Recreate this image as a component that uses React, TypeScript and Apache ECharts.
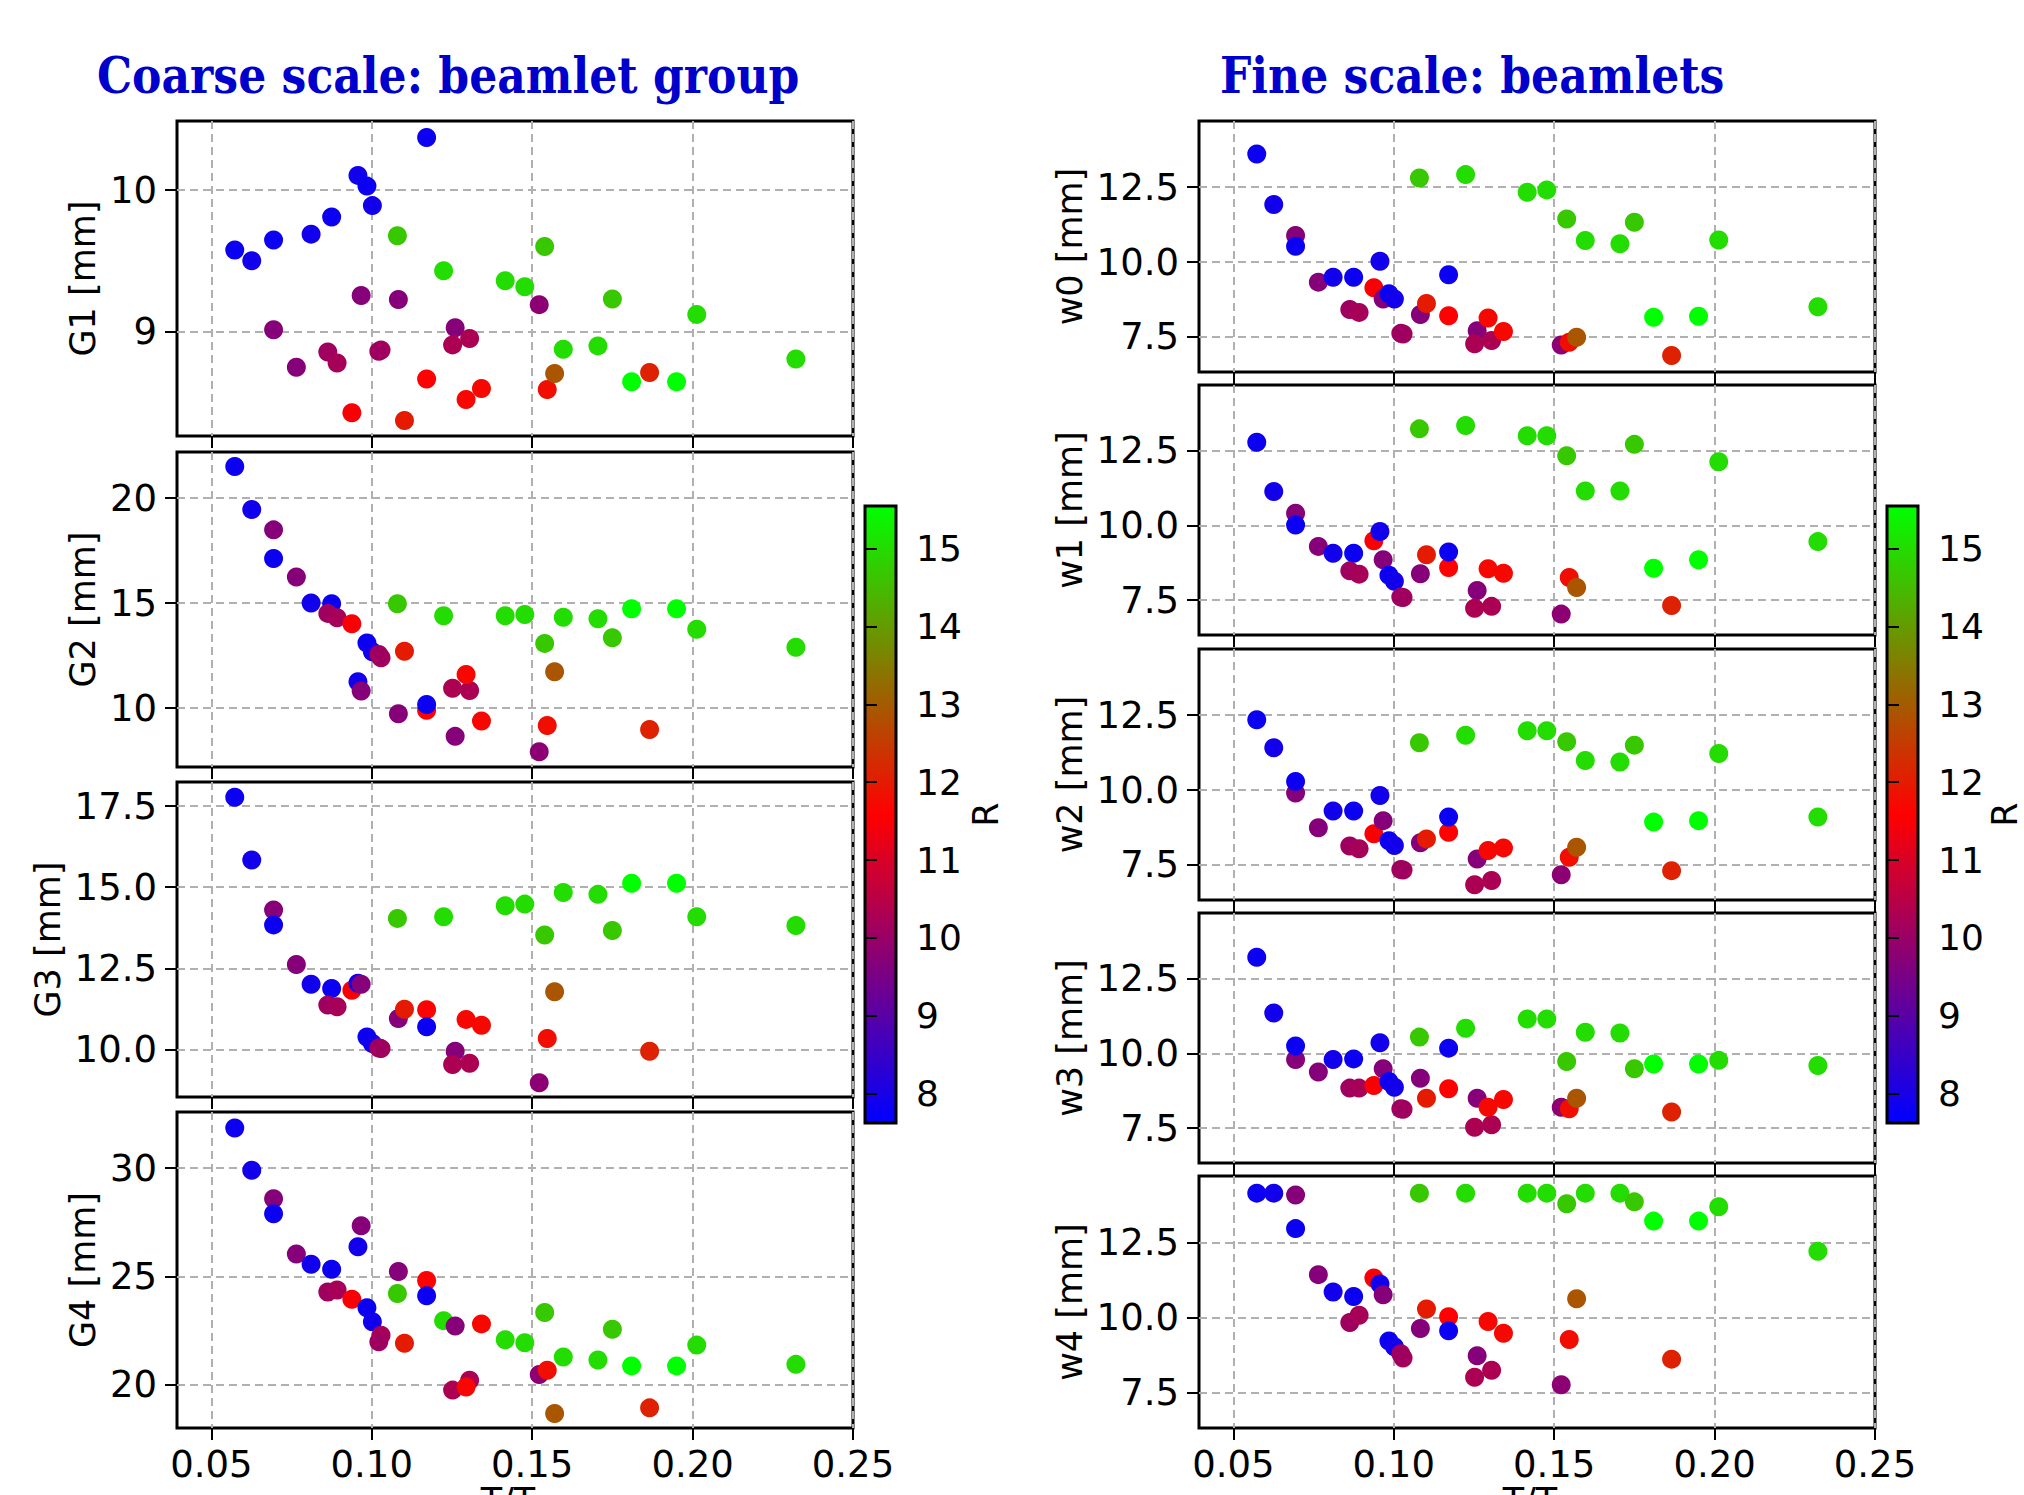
import React, { useEffect, useRef } from 'react';
import * as echarts from 'echarts';

// ---- data (one entry per sample) ----
const xRatio = [
  0.0573, 0.0626, 0.0694, 0.0694, 0.0765, 0.0811, 0.0875, 0.0863, 0.0892, 0.0938,
  0.0957, 0.0967, 0.0985, 0.1002, 0.1029, 0.1022, 0.1083, 0.1080, 0.1102, 0.1171,
  0.1171, 0.1224, 0.1260, 0.1252, 0.1305, 0.1294, 0.1342, 0.1416, 0.1477, 0.1522,
  0.1539, 0.1547, 0.1570, 0.1597, 0.1705, 0.1750, 0.1810, 0.1866, 0.1950, 0.2013,
  0.2322,
];
const rValue = [
  7.8, 7.9, 9.7, 7.8, 9.7, 7.9, 7.8, 10.1, 10.2, 11.5,
  7.9, 9.7, 7.8, 7.9, 10.2, 10.1, 9.7, 14.7, 12.0, 11.6,
  7.8, 15.0, 9.7, 10.3, 10.3, 11.7, 11.7, 15.0, 15.0, 9.8,
  14.7, 11.8, 12.9, 15.0, 15.0, 14.7, 15.55, 12.1, 15.55, 15.0,
  15.0,
];
const g1 = [
  9.577, 9.501, 9.012, 9.648, 8.746, 9.689, 9.81, 8.855, 8.777, 8.425,
  10.105, 9.254, 10.029, 9.891, 8.869, 8.86, 9.226, 9.677, 8.37, 8.663,
  10.373, 9.43, 9.026, 8.905, 8.95, 8.518, 8.596, 9.359, 9.316, 9.19,
  9.601, 8.589, 8.703, 8.874, 8.898, 9.23, 8.644, 8.71, 8.644, 9.121,
  8.805,
];
const g2 = [
  21.51, 19.46, 18.49, 17.13, 16.24, 15.0, 14.97, 14.51, 14.3, 14.02,
  11.25, 10.81, 13.1, 12.68, 12.4, 12.55, 9.73, 14.97, 12.71, 9.89,
  10.17, 14.4, 8.65, 10.94, 10.84, 11.6, 9.38, 14.4, 14.46, 7.92,
  13.08, 9.17, 11.73, 14.33, 14.25, 13.35, 14.73, 8.98, 14.73, 13.75,
  12.9,
];
const g3 = [
  17.77, 15.84, 14.3, 13.84, 12.62, 12.01, 11.88, 11.37, 11.32, 11.83,
  12.04, 12.01, 10.39, 10.19, 10.03, 10.05, 10.96, 14.04, 11.24, 11.23,
  10.7, 14.09, 9.95, 9.54, 9.58, 10.93, 10.75, 14.43, 14.48, 8.98,
  13.53, 10.34, 11.78, 14.84, 14.78, 13.67, 15.12, 9.95, 15.12, 14.09,
  13.82,
];
const g4 = [
  31.85, 29.9, 28.58, 27.89, 26.03, 25.56, 25.32, 24.27, 24.37, 23.94,
  26.36, 27.33, 23.55, 22.9, 22.28, 21.97, 25.22, 24.2, 21.91, 24.81,
  24.1, 22.95, 22.7, 19.74, 20.2, 19.88, 22.8, 22.07, 21.93, 20.46,
  23.33, 20.66, 18.66, 21.27, 21.13, 22.55, 20.86, 18.92, 20.86, 21.82,
  20.93,
];
const w0 = [
  13.61, 11.92, 10.89, 10.53, 9.33, 9.49, 9.49, 8.42, 8.32, 9.14,
  10.03, 8.77, 8.94, 8.77, 7.6, 7.62, 8.25, 12.81, 8.62, 8.21,
  9.58, 12.92, 7.71, 7.27, 7.38, 8.13, 7.68, 12.33, 12.41, 7.23,
  11.44, 7.32, 7.49, 10.72, 10.61, 11.33, 8.16, 6.88, 8.19, 10.74,
  8.51,
];
const w1 = [
  12.79, 11.14, 10.41, 10.02, 9.3, 9.07, 9.07, 8.48, 8.37, 9.49,
  9.8, 8.85, 8.33, 8.13, 7.59, 7.6, 8.38, 13.24, 9.02, 8.59,
  9.11, 13.35, 7.82, 7.23, 7.29, 8.55, 8.4, 13.01, 13.01, 7.03,
  12.34, 8.26, 7.92, 11.16, 11.16, 12.72, 8.57, 7.32, 8.85, 12.14,
  9.46,
];
const w2 = [
  12.35, 11.41, 9.9, 10.29, 8.74, 9.3, 9.3, 8.13, 8.04, 8.54,
  9.82, 8.98, 8.31, 8.15, 7.33, 7.35, 8.24, 11.58, 8.37, 8.59,
  9.1, 11.83, 7.7, 6.84, 6.98, 7.98, 8.07, 11.98, 11.98, 7.17,
  11.61, 7.76, 8.09, 10.99, 10.94, 11.5, 8.93, 7.31, 8.98, 11.22,
  9.1,
];
const w3 = [
  13.23, 11.36, 9.8, 10.25, 9.38, 9.8, 9.82, 8.84, 8.84, 8.93,
  10.36, 9.49, 9.06, 8.87, 8.13, 8.15, 9.17, 10.55, 8.5, 8.82,
  10.18, 10.85, 8.5, 7.53, 7.61, 8.2, 8.46, 11.16, 11.16, 8.2,
  9.73, 8.15, 8.5, 10.71, 10.69, 9.49, 9.65, 8.04, 9.65, 9.77,
  9.6,
];
const w4 = [
  14.14, 14.14, 14.08, 12.96, 11.43, 10.85, 10.7, 9.84, 10.08, 11.32,
  11.12, 10.76, 9.22, 9.03, 8.66, 8.8, 9.64, 14.14, 10.29, 10.03,
  9.56, 14.14, 8.73, 8.02, 8.25, 9.87, 9.48, 14.14, 14.14, 7.77,
  13.79, 9.27, 10.63, 14.14, 14.14, 13.85, 13.21, 8.62, 13.21, 13.69,
  12.21,
];

// ---- axes / ticks ----
const xRange = [0.0393, 0.25];
const xTicks = [0.05, 0.1, 0.15, 0.2, 0.25];
const g1Range = [8.26, 10.49];
const g1Ticks = [9, 10];
const g2Range = [7.19, 22.2];
const g2Ticks = [10, 15, 20];
const g3Range = [8.54, 18.24];
const g3Ticks = [10, 12.5, 15, 17.5];
const g4Range = [17.99, 32.59];
const g4Ticks = [20, 25, 30];
const wRange = [6.33, 14.71];
const wTicks = [7.5, 10, 12.5];
const rRange = [7.62, 15.55];
const rTicks = [8, 9, 10, 11, 12, 13, 14, 15];
const rColors = ['#0000ff', '#ff0000', '#00ff00'];

const titles = ['Coarse scale: beamlet group', 'Fine scale: beamlets'];
const xName = 'T/T\u2080';

// ---- layout ----
const FONT = 'DejaVu Sans';
const FS_TICK = 37;
const FS_NAME = 35;
const LEFT_COL = 177;
const RIGHT_COL = 1199;
const COL_W = 676;

const panels = [
  { label: 'G1 [mm]', values: g1, range: g1Range, ticks: g1Ticks, dec: 0, left: LEFT_COL, top: 121, height: 315, nameGap: 77, bottom: false },
  { label: 'G2 [mm]', values: g2, range: g2Range, ticks: g2Ticks, dec: 0, left: LEFT_COL, top: 452, height: 315, nameGap: 77, bottom: false },
  { label: 'G3 [mm]', values: g3, range: g3Range, ticks: g3Ticks, dec: 1, left: LEFT_COL, top: 782, height: 315, nameGap: 112, bottom: false },
  { label: 'G4 [mm]', values: g4, range: g4Range, ticks: g4Ticks, dec: 0, left: LEFT_COL, top: 1112, height: 316, nameGap: 77, bottom: true },
  { label: 'w0 [mm]', values: w0, range: wRange, ticks: wTicks, dec: 1, left: RIGHT_COL, top: 121, height: 251, nameGap: 112, bottom: false },
  { label: 'w1 [mm]', values: w1, range: wRange, ticks: wTicks, dec: 1, left: RIGHT_COL, top: 385, height: 250, nameGap: 112, bottom: false },
  { label: 'w2 [mm]', values: w2, range: wRange, ticks: wTicks, dec: 1, left: RIGHT_COL, top: 649, height: 251, nameGap: 112, bottom: false },
  { label: 'w3 [mm]', values: w3, range: wRange, ticks: wTicks, dec: 1, left: RIGHT_COL, top: 913, height: 250, nameGap: 112, bottom: false },
  { label: 'w4 [mm]', values: w4, range: wRange, ticks: wTicks, dec: 1, left: RIGHT_COL, top: 1176, height: 252, nameGap: 112, bottom: true },
];

const colorbars = [
  { left: 865, top: 506, width: 31, height: 617, nameGap: 72 },
  { left: 1887, top: 506, width: 31, height: 617, nameGap: 68 },
];

const gridLine = { show: true, lineStyle: { color: '#b0b0b0', width: 2, type: [8, 5] } };
const tickStyle = { color: '#000', width: 2 };
const tickLabelStyle = { fontSize: FS_TICK, fontFamily: FONT, color: '#000' };
const nameStyle = { fontSize: FS_NAME, fontFamily: FONT, color: '#000' };

function buildOption() {
  const grid: any[] = [];
  const xAxis: any[] = [];
  const yAxis: any[] = [];
  const series: any[] = [];

  panels.forEach((p, i) => {
    grid.push({
      left: p.left, top: p.top, width: COL_W, height: p.height,
      show: true, borderColor: '#000', borderWidth: 3, backgroundColor: 'transparent',
      containLabel: false, outerBoundsMode: 'none',
    });
    xAxis.push({
      gridIndex: i, type: 'value', min: xRange[0], max: xRange[1],
      axisLine: { show: false },
      axisTick: { show: true, length: 12, inside: false, lineStyle: tickStyle, customValues: xTicks },
      axisLabel: {
        show: p.bottom, customValues: xTicks, margin: 18, ...tickLabelStyle,
        formatter: (v: number) => v.toFixed(2),
      },
      splitLine: gridLine,
      name: p.bottom ? xName : '',
      nameLocation: 'middle', nameGap: 52,
      nameTextStyle: { ...nameStyle },
    });
    yAxis.push({
      gridIndex: i, type: 'value', min: p.range[0], max: p.range[1],
      axisLine: { show: false },
      axisTick: { show: true, length: 12, inside: false, lineStyle: tickStyle, customValues: p.ticks },
      axisLabel: {
        customValues: p.ticks, margin: 20, ...tickLabelStyle,
        formatter: (v: number) => v.toFixed(p.dec),
      },
      splitLine: gridLine,
      name: p.label, nameLocation: 'middle', nameRotate: 90, nameGap: p.nameGap,
      nameTextStyle: { ...nameStyle },
    });
    series.push({
      type: 'scatter', xAxisIndex: i, yAxisIndex: i,
      symbol: 'circle', symbolSize: 19,
      itemStyle: { opacity: 1 },
      data: xRatio.map((x, k) => [x, p.values[k], rValue[k]]),
    });
  });

  colorbars.forEach((c) => {
    const gi = grid.length;
    grid.push({
      left: c.left, top: c.top, width: c.width, height: c.height,
      show: true, borderColor: '#000', borderWidth: 3, backgroundColor: 'transparent', z: 10,
      containLabel: false, outerBoundsMode: 'none',
    });
    xAxis.push({ gridIndex: gi, type: 'value', min: 0, max: 1, show: false });
    yAxis.push({
      gridIndex: gi, type: 'value', position: 'right', min: rRange[0], max: rRange[1], z: 10,
      axisLine: { show: false },
      axisTick: { show: true, length: 12, inside: false, lineStyle: tickStyle, customValues: rTicks },
      axisLabel: { customValues: rTicks, margin: 20, fontSize: 36, fontFamily: FONT, color: '#000', formatter: (v: number) => String(Math.round(v)) },
      splitLine: { show: false },
      name: 'R', nameLocation: 'middle', nameRotate: 90, nameGap: c.nameGap,
      nameTextStyle: { ...nameStyle },
    });
  });

  const visualMap = colorbars.map((c) => ({
    type: 'continuous', min: rRange[0], max: rRange[1], dimension: 2,
    seriesIndex: panels.map((_, i) => i),
    inRange: { color: rColors },
    left: c.left, top: c.top, itemWidth: c.width, itemHeight: c.height,
    calculable: false, padding: 0, hoverLink: false,
  }));

  return {
    animation: false,
    backgroundColor: '#ffffff',
    grid, xAxis, yAxis, series, visualMap,
    graphic: [
      {
        type: 'text', left: 97, top: 49, scaleX: 0.865,
        style: { text: titles[0], font: 'bold 51px "DejaVu Serif"', fill: '#0000cc' },
      },
      {
        type: 'text', left: 1220, top: 49, scaleX: 0.865,
        style: { text: titles[1], font: 'bold 51px "DejaVu Serif"', fill: '#0000cc' },
      },
    ],
  };
}

export default function App() {
  const ref = useRef<HTMLDivElement>(null);
  useEffect(() => {
    if (!ref.current) return;
    const chart = echarts.init(ref.current, undefined, { renderer: 'svg' });
    chart.setOption(buildOption() as any);
    return () => chart.dispose();
  }, []);
  return (
    <div
      ref={ref}
      style={{ position: 'absolute', left: 0, top: 0, width: 2024, height: 1495, background: '#fff' }}
    />
  );
}
